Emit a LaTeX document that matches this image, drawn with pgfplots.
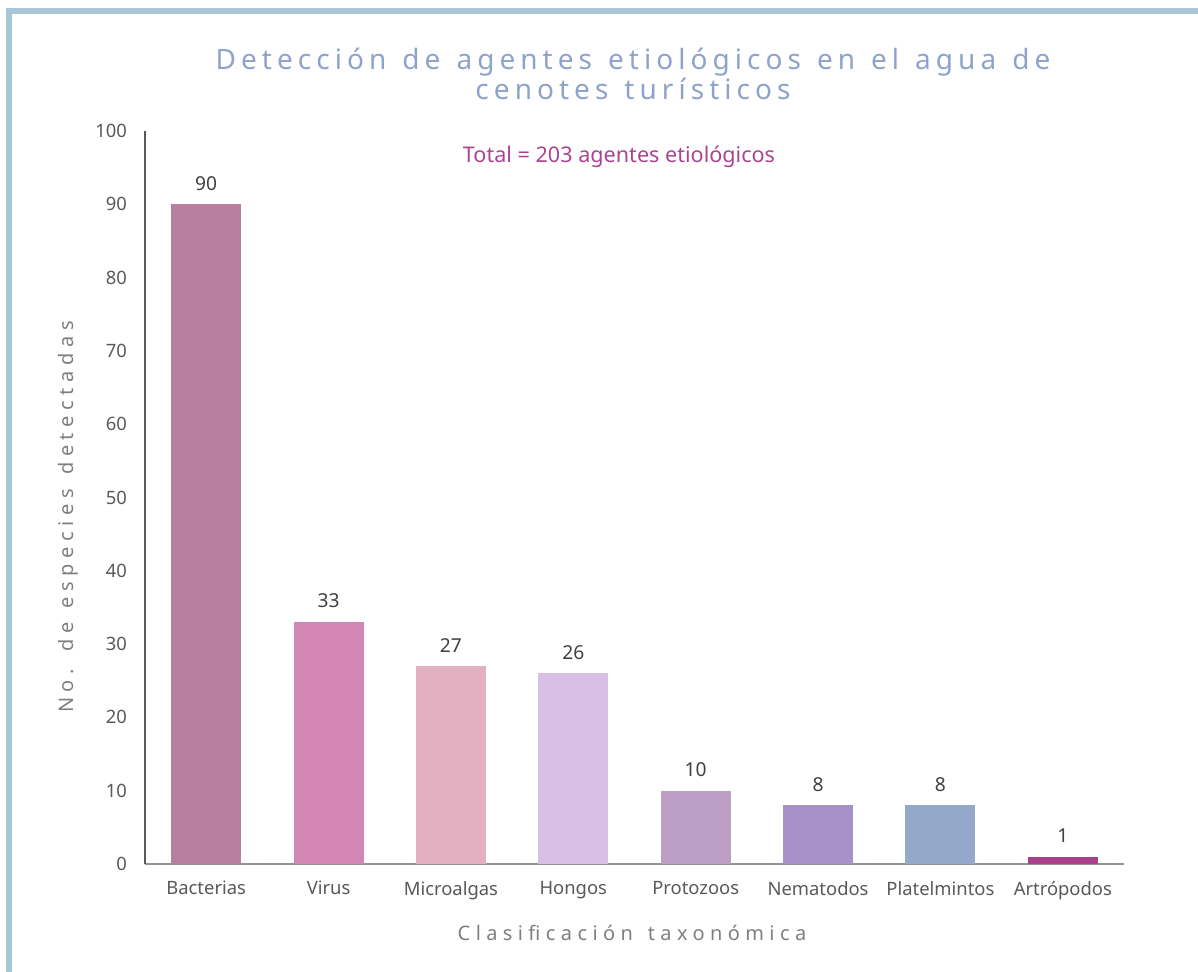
\documentclass[border=0pt]{standalone}
\usepackage{fontspec}
\setmainfont{Noto Sans}
\newfontfamily\titlefont[LetterSpace=18,WordSpace=1.3]{Noto Sans}
\newfontfamily\labfont[LetterSpace=27,WordSpace=1.4]{Noto Sans}
\newfontfamily\ylabfont[LetterSpace=28,WordSpace=1.3]{Noto Sans}
\usepackage{pgfplots}
\pgfplotsset{compat=1.18}
\definecolor{frame}{HTML}{A9C5D8}
\definecolor{titlec}{HTML}{8EA3CB}
\definecolor{labc}{HTML}{7F7F7F}
\definecolor{tickc}{HTML}{595959}
\definecolor{valc}{HTML}{404040}
\definecolor{totc}{HTML}{AA4492}
\definecolor{c1}{HTML}{B87E9E}
\definecolor{c2}{HTML}{D385B3}
\definecolor{c3}{HTML}{E3B0C1}
\definecolor{c4}{HTML}{D8BFE5}
\definecolor{c5}{HTML}{BC9EC7}
\definecolor{c6}{HTML}{A791CB}
\definecolor{c7}{HTML}{94A8CA}
\definecolor{c8}{HTML}{A9408E}
\begin{document}
\begin{tikzpicture}
\path[use as bounding box] (0,0) rectangle (599pt,-485.5pt);
\draw[frame, line width=3pt] (4.5pt,-5.5pt) rectangle (700pt,-600pt);
\begin{axis}[
  at={(72.5pt,-432pt)}, anchor=south west,
  scale only axis, width=489.5pt, height=366.5pt,
  xmin=-0.5, xmax=7.5, ymin=0, ymax=100,
  ytick={0,10,...,100},
  xtick={0,...,7},
  xticklabels={Bacterias,Virus,Microalgas,Hongos,Protozoos,Nematodos,Platelmintos,Artrópodos},
  axis x line*=bottom, axis y line*=left,
  x axis line style={-, draw=gray!85, line width=0.8pt},
  y axis line style={-, draw=tickc, line width=0.8pt},
  major tick length=0pt,
  /pgf/number format/assume math mode=true,
  tick label style={font=\fontsize{9.2}{11}\selectfont, text=tickc},
  yticklabel style={xshift=-5.5pt},
  xticklabel style={yshift=-5pt},
  ybar, bar width=35pt, bar shift=0pt,
  nodes near coords,
  every node near coord/.append style={font=\fontsize{9.6}{11}\selectfont, text=valc, yshift=3.5pt},
  clip=false,
]
\addplot[fill=c1, draw=none] coordinates {(0,90)};
\addplot[fill=c2, draw=none] coordinates {(1,33)};
\addplot[fill=c3, draw=none] coordinates {(2,27)};
\addplot[fill=c4, draw=none] coordinates {(3,26)};
\addplot[fill=c5, draw=none] coordinates {(4,10)};
\addplot[fill=c6, draw=none] coordinates {(5,8)};
\addplot[fill=c7, draw=none] coordinates {(6,8)};
\addplot[fill=c8, draw=none] coordinates {(7,1)};
\end{axis}
\node[anchor=base, text=titlec, font=\titlefont\fontsize{14}{16}\selectfont] at (316.5pt,-34.5pt) {Detección de agentes etiológicos en el agua de};
\node[anchor=base, text=titlec, font=\titlefont\fontsize{14}{16}\selectfont] at (316.5pt,-49.5pt) {cenotes turísticos};
\node[text=totc, font=\fontsize{10.8}{12}\selectfont] at (309.5pt,-78.5pt) {Total = 203 agentes etiológicos};
\node[text=labc, rotate=90, font=\ylabfont\fontsize{10}{12}\selectfont] at (34pt,-258.5pt) {No. de especies detectadas};
\node[text=labc, font=\labfont\fontsize{10}{12}\selectfont] at (316pt,-466.5pt) {Clasificación taxonómica};
\end{tikzpicture}
\end{document}
